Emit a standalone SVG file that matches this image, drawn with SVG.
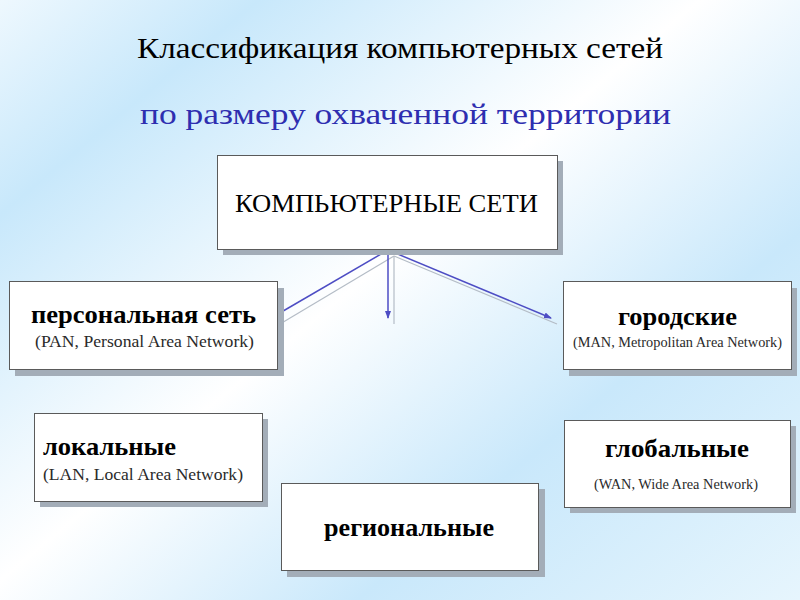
<svg xmlns="http://www.w3.org/2000/svg" width="800" height="600" viewBox="0 0 800 600">
  <defs>
    <linearGradient id="bg" gradientUnits="userSpaceOnUse" x1="0" y1="0" x2="620" y2="748">
      <stop offset="0" stop-color="#eef8fe"/>
      <stop offset="0.17" stop-color="#c8e8fb"/>
      <stop offset="0.46" stop-color="#ffffff"/>
      <stop offset="0.71" stop-color="#c9e8fb"/>
      <stop offset="1" stop-color="#e6f5fd"/>
    </linearGradient>
    <marker id="arr" markerWidth="8" markerHeight="6" refX="7" refY="3" orient="auto" markerUnits="userSpaceOnUse">
      <path d="M0,0 L8,3 L0,6 Z" fill="#4d4dc4"/>
    </marker>
  </defs>
  <style>
    .box { fill: #ffffff; stroke: #5a5a5a; stroke-width: 1; }
    .shadow { fill: #a3adb8; }
    text { font-family: "Liberation Serif", "DejaVu Serif", "Times New Roman", serif; }
    .main { font-size: 26px; font-weight: bold; fill: #000; }
    .sub { fill: #2a2a2a; }
    .conn { stroke: #4d4dc4; stroke-width: 1.5; fill: none; }
    .connS { stroke: #b4bcc6; stroke-width: 1.2; fill: none; }
  </style>
  <rect width="800" height="600" fill="url(#bg)"/>

  <g id="title">
    <text x="137" y="58" font-family="Liberation Serif, DejaVu Serif, serif" font-size="30" fill="#000" textLength="526" lengthAdjust="spacingAndGlyphs">Классификация компьютерных сетей</text>
    <text x="140" y="124" font-family="Liberation Serif, DejaVu Serif, serif" font-size="30" fill="#2e2eb0" textLength="531" lengthAdjust="spacingAndGlyphs">по размеру охваченной территории</text>
  </g>

  <g id="connectors">
    <line class="connS" x1="394" y1="256" x2="280" y2="324"/>
    <line class="connS" x1="394" y1="256" x2="394" y2="324"/>
    <line class="connS" x1="394" y1="256" x2="557" y2="324"/>
    <line class="conn" x1="388" y1="250" x2="278" y2="314"/>
    <line class="conn" x1="388" y1="250" x2="388" y2="318" marker-end="url(#arr)"/>
    <line class="conn" x1="388" y1="250" x2="551" y2="318" marker-end="url(#arr)"/>
  </g>

  <g id="node-root">
    <rect class="shadow" x="223" y="161" width="340" height="94"/>
    <rect class="box" x="217.5" y="155.5" width="340" height="94"/>
    <text x="235" y="212" font-family="Liberation Serif, DejaVu Serif, serif" font-size="26" fill="#000" textLength="303" lengthAdjust="spacingAndGlyphs">КОМПЬЮТЕРНЫЕ СЕТИ</text>
  </g>

  <g id="node-pan">
    <rect class="shadow" x="15" y="288" width="269" height="88"/>
    <rect class="box" x="9.5" y="281.5" width="268" height="88"/>
    <text class="main" x="31" y="323" font-family="Liberation Serif, DejaVu Serif, serif" textLength="225" lengthAdjust="spacingAndGlyphs">персональная сеть</text>
    <text class="sub" x="35" y="347" font-family="Liberation Serif, DejaVu Serif, serif" font-size="17" textLength="219" lengthAdjust="spacingAndGlyphs">(PAN, Personal Area Network)</text>
  </g>

  <g id="node-man">
    <rect class="shadow" x="569" y="288" width="228" height="88"/>
    <rect class="box" x="563.5" y="281.5" width="228" height="88"/>
    <text class="main" x="618" y="325" font-family="Liberation Serif, DejaVu Serif, serif" textLength="119" lengthAdjust="spacingAndGlyphs">городские</text>
    <text class="sub" x="573" y="347" font-family="Liberation Serif, DejaVu Serif, serif" font-size="14" textLength="209" lengthAdjust="spacingAndGlyphs">(MAN, Metropolitan Area Network)</text>
  </g>

  <g id="node-lan">
    <rect class="shadow" x="40" y="419" width="228" height="88"/>
    <rect class="box" x="34.5" y="413.5" width="228" height="88"/>
    <text class="main" x="43" y="455" font-family="Liberation Serif, DejaVu Serif, serif" textLength="133" lengthAdjust="spacingAndGlyphs">локальные</text>
    <text class="sub" x="43" y="480" font-family="Liberation Serif, DejaVu Serif, serif" font-size="17" textLength="200" lengthAdjust="spacingAndGlyphs">(LAN, Local Area Network)</text>
  </g>

  <g id="node-regional">
    <rect class="shadow" x="287" y="489" width="258" height="88"/>
    <rect class="box" x="281.5" y="483.5" width="257" height="87"/>
    <text class="main" x="324" y="536" font-family="Liberation Serif, DejaVu Serif, serif" textLength="170" lengthAdjust="spacingAndGlyphs">региональные</text>
  </g>

  <g id="node-wan">
    <rect class="shadow" x="570" y="426" width="226" height="87"/>
    <rect class="box" x="564.5" y="420.5" width="226" height="87"/>
    <text class="main" x="605" y="457" font-family="Liberation Serif, DejaVu Serif, serif" textLength="144" lengthAdjust="spacingAndGlyphs">глобальные</text>
    <text class="sub" x="594" y="489" font-family="Liberation Serif, DejaVu Serif, serif" font-size="14" textLength="164" lengthAdjust="spacingAndGlyphs">(WAN, Wide Area Network)</text>
  </g>
</svg>
